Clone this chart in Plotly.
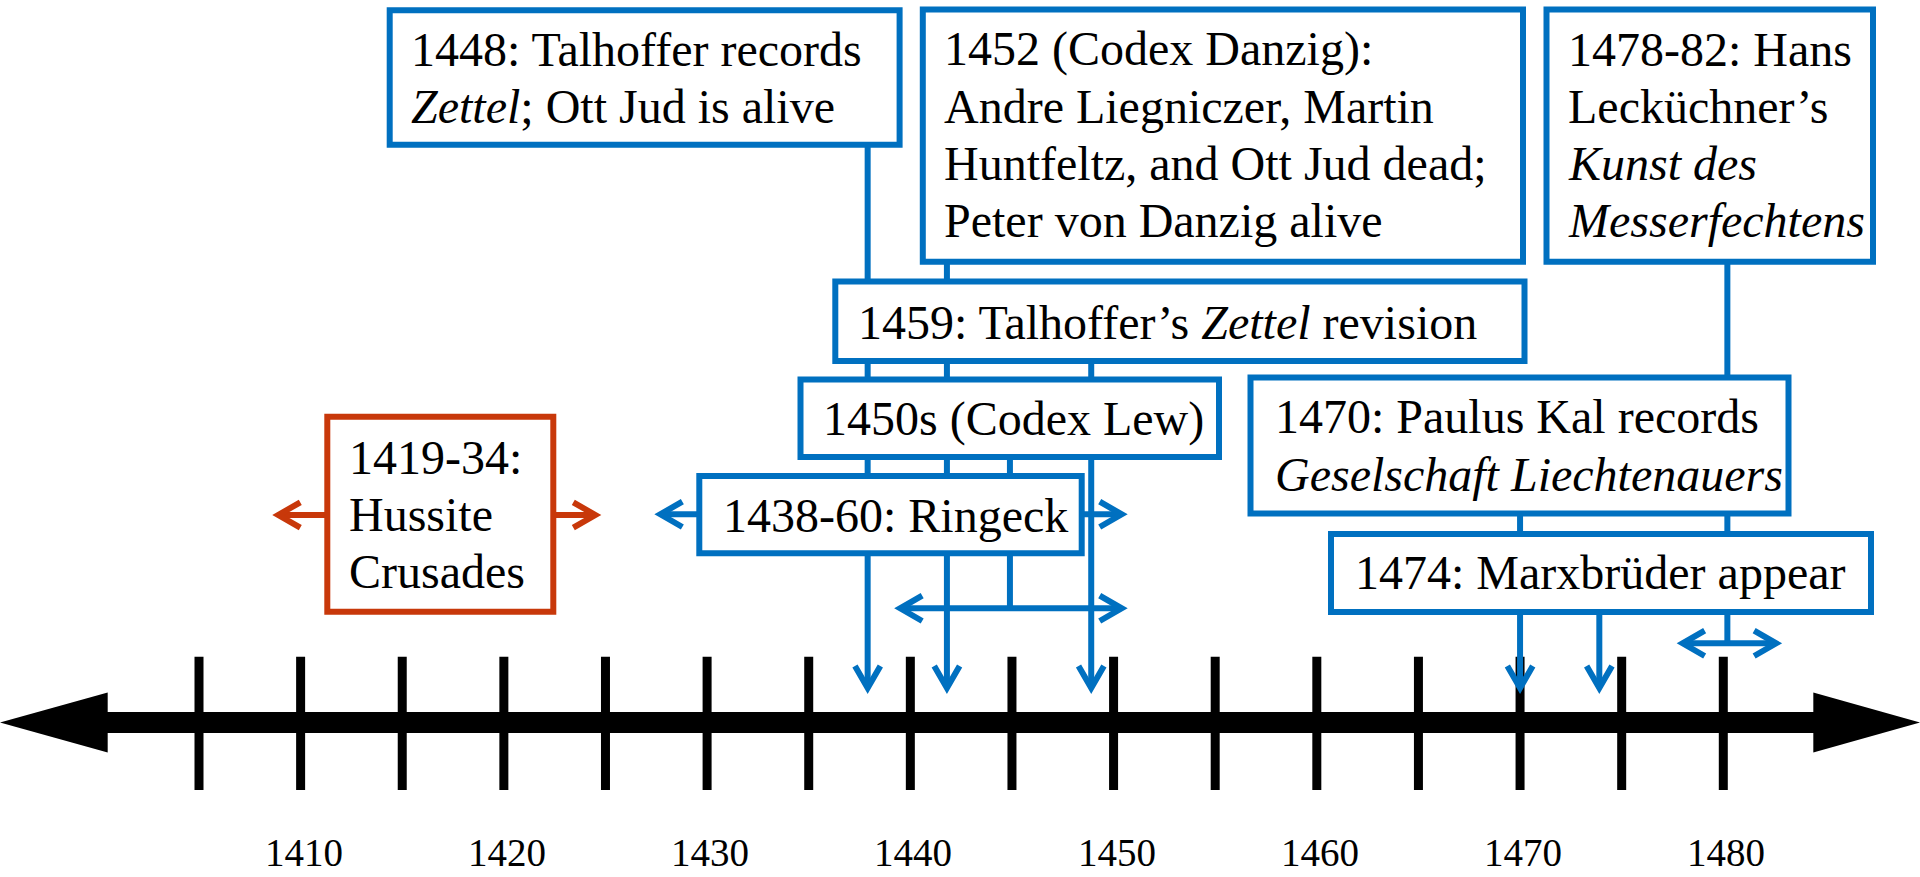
import plotly.graph_objects as go

# ------------------------------------------------------------------ data
tick_years = [1405, 1410, 1415, 1420, 1425, 1430, 1435, 1440,
              1445, 1450, 1455, 1460, 1465, 1470, 1475, 1480]
label_years = [1410, 1420, 1430, 1440, 1450, 1460, 1470, 1480]
label_texts = ["1410", "1420", "1430", "1440", "1450", "1460", "1470", "1480"]

box_ids = ["A", "B", "C", "D", "E", "F", "G", "H", "I"]
box_lines = [
    ["1448: Talhoffer records", "<i>Zettel</i>; Ott Jud is alive"],
    ["1452 (Codex Danzig):", "Andre Liegniczer, Martin",
     "Huntfeltz, and Ott Jud dead;", "Peter von Danzig alive"],
    ["1478-82: Hans", "Lecküchner’s", "<i>Kunst des</i>", "<i>Messerfechtens</i>"],
    ["1459: Talhoffer’s <i>Zettel</i> revision"],
    ["1450s (Codex Lew)"],
    ["1470: Paulus Kal records", "<i>Geselschaft Liechtenauers</i>"],
    ["1438-60: Ringeck"],
    ["1419-34:", "Hussite", "Crusades"],
    ["1474: Marxbrüder appear"],
]
box_kind = ["blue", "blue", "blue", "blue", "blue", "blue", "blue", "red", "blue"]

# single-date pointers (arrow hits the timeline)
pointer_years = [1437.9, 1441.8, 1448.9, 1470.0, 1473.9]
pointer_from = ["A", "B", "D", "F", "I"]

# period spans (double-headed arrows)
span_from = ["H", "G", "E", "C"]
span_start = [1408.9, 1427.7, 1439.5, 1478.0]
span_end = [1424.5, 1450.4, 1450.4, 1482.6]
span_stem = [None, None, 1444.9, 1480.2]

# ------------------------------------------------------------------ layout (pixels)
W, H = 1920, 877
ORIGIN_YEAR, ORIGIN_PX, PPY = 1405, 199.0, 20.324

geom = {  # x0, x1, y0, y1 of each box, text left, first baseline, line step
    "A": (389.7, 899.6, 10.3, 144.7, 409, 65.5, 57),
    "B": (922.8, 1523.0, 9.5, 261.7, 941.5, 65.5, 57),
    "C": (1546.5, 1873.0, 9.5, 261.7, 1565.5, 65.5, 57),
    "D": (835.3, 1524.5, 281.6, 361.0, 856, 339, 0),
    "E": (800.5, 1219.0, 379.5, 457.0, 821, 435, 0),
    "F": (1250.5, 1788.5, 377.5, 513.5, 1273, 433, 57.5),
    "G": (699.3, 1081.7, 476.0, 553.3, 720.7, 531.5, 0),
    "H": (327.3, 553.3, 416.7, 611.7, 347.3, 473.5, 57),
    "I": (1331.0, 1871.0, 534.0, 612.0, 1352.6, 589, 0),
}
span_y = {"H": 515.0, "G": 514.3, "E": 608.3, "C": 643.3}
POINTER_TIP = 688.0
AXIS_Y, AXIS_W = 722.5, 21
TICK_Y0, TICK_Y1 = 656.7, 790.0
LABEL_Y = 852.0

BLUE = "#0070C0"
RED = "#C8380A"
COL = {"blue": BLUE, "red": RED}
LW = 6
FONT = "Liberation Serif"
FS = 48


def px2x(px):
    return ORIGIN_YEAR + (px - ORIGIN_PX) / PPY


def dx(px):
    return px / PPY


xr = [px2x(0), px2x(W)]

shapes = []
annotations = []

# timeline shaft and heads
shapes.append(dict(type="line", xref="x", yref="y", x0=px2x(100), x1=px2x(1820),
                   y0=AXIS_Y, y1=AXIS_Y, line=dict(color="black", width=AXIS_W)))
shapes.append(dict(type="path", xref="x", yref="y",
                   path=f"M {px2x(0)},{AXIS_Y} L {px2x(107.7)},{AXIS_Y-30} L {px2x(107.7)},{AXIS_Y+30} Z",
                   fillcolor="black", line=dict(color="black", width=0)))
shapes.append(dict(type="path", xref="x", yref="y",
                   path=f"M {px2x(W)},{AXIS_Y} L {px2x(1813.3)},{AXIS_Y-30} L {px2x(1813.3)},{AXIS_Y+30} Z",
                   fillcolor="black", line=dict(color="black", width=0)))
for ty in tick_years:
    shapes.append(dict(type="line", xref="x", yref="y", x0=ty, x1=ty,
                       y0=TICK_Y0, y1=TICK_Y1, line=dict(color="black", width=9)))
for ly, lt in zip(label_years, label_texts):
    annotations.append(dict(x=ly + dx(3), y=LABEL_Y, xref="x", yref="y", text=lt,
                            showarrow=False, xanchor="center", yanchor="middle",
                            font=dict(family=FONT, size=39, color="black")))

kind_of = dict(zip(box_ids, box_kind))

# connectors (drawn beneath the boxes)
chevrons = []
AL, HW = 22.0, 12.7
for yr, src in zip(pointer_years, pointer_from):
    g = geom[src]
    shapes.append(dict(type="line", xref="x", yref="y", x0=yr, x1=yr, y0=g[3], y1=POINTER_TIP - 2,
                       line=dict(color=BLUE, width=LW)))
    chevrons.append((f"M {yr-dx(HW)},{POINTER_TIP-AL} L {yr},{POINTER_TIP} L {yr+dx(HW)},{POINTER_TIP-AL}",
                     BLUE))

for src, s0, s1, stem in zip(span_from, span_start, span_end, span_stem):
    col = COL[kind_of[src]]
    y = span_y[src]
    shapes.append(dict(type="line", xref="x", yref="y", x0=s0 + dx(2), x1=s1 - dx(2), y0=y, y1=y,
                       line=dict(color=col, width=LW)))
    if stem is not None:
        shapes.append(dict(type="line", xref="x", yref="y", x0=stem, x1=stem,
                           y0=geom[src][3], y1=y, line=dict(color=col, width=LW)))
    chevrons.append((f"M {s0+dx(AL)},{y-HW} L {s0},{y} L {s0+dx(AL)},{y+HW}", col))
    chevrons.append((f"M {s1-dx(AL)},{y-HW} L {s1},{y} L {s1-dx(AL)},{y+HW}", col))

# boxes
for bid, lines in zip(box_ids, box_lines):
    x0, x1, y0, y1, tx, base, step = geom[bid]
    col = COL[kind_of[bid]]
    shapes.append(dict(type="rect", xref="x", yref="y", x0=px2x(x0), x1=px2x(x1), y0=y0, y1=y1,
                       fillcolor="white", line=dict(color=col, width=LW)))
    for i, ln in enumerate(lines):
        annotations.append(dict(x=px2x(tx), y=base + i * step - 16.5, xref="x", yref="y", text=ln,
                                showarrow=False, xanchor="left", yanchor="middle",
                                font=dict(family=FONT, size=FS, color="black")))

for p, col in chevrons:
    shapes.append(dict(type="path", xref="x", yref="y", path=p,
                       line=dict(color=col, width=LW)))

fig = go.Figure()
fig.add_trace(go.Scatter(x=[xr[0]], y=[0], mode="markers", marker=dict(opacity=0),
                         hoverinfo="skip", showlegend=False))
fig.update_layout(
    width=W, height=H, margin=dict(l=0, r=0, t=0, b=0),
    paper_bgcolor="white", plot_bgcolor="white",
    xaxis=dict(range=xr, visible=False, fixedrange=True),
    yaxis=dict(range=[H, 0], visible=False, fixedrange=True),
    shapes=shapes, annotations=annotations, showlegend=False,
)
fig.write_html("out.html", config={"displayModeBar": False},
               post_script="document.body.style.margin='0';document.body.style.overflow='hidden';")
